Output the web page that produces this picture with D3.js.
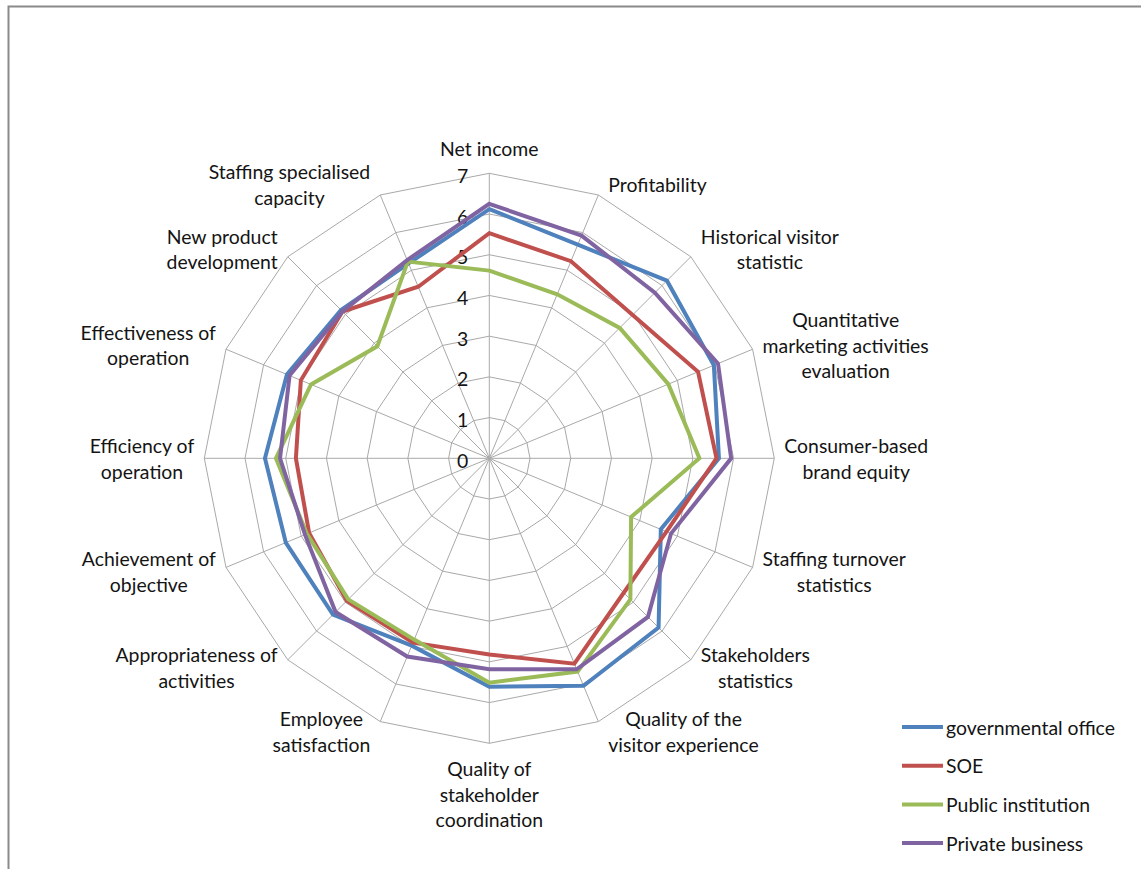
<!DOCTYPE html>
<html>
<head>
<meta charset="utf-8">
<script src="https://cdn.jsdelivr.net/npm/d3@7"></script>
<style>
  html, body { margin: 0; padding: 0; background: #ffffff; }
  svg { display: block; }
  text { font-family: Lato, "Open Sans", "DejaVu Sans", sans-serif; fill: #141414; }
</style>
</head>
<body>
<svg id="chart" width="1141" height="869"></svg>
<script>
// Axis categories, clockwise from the top ("\n" marks a line break in the label)
const categories = [
  "Net income",
  "Profitability",
  "Historical visitor\nstatistic",
  "Quantitative\nmarketing activities\nevaluation",
  "Consumer-based\nbrand equity",
  "Staffing turnover\nstatistics",
  "Stakeholders\nstatistics",
  "Quality of the\nvisitor experience",
  "Quality of\nstakeholder\ncoordination",
  "Employee\nsatisfaction",
  "Appropriateness of\nactivities",
  "Achievement of\nobjective",
  "Efficiency of\noperation",
  "Effectiveness of\noperation",
  "New product\ndevelopment",
  "Staffing specialised\ncapacity"
];

const seriesNames = ["governmental office", "SOE", "Public institution", "Private business"];

const governmentalOffice = [6.12, 5.68, 6.17, 5.97, 5.64, 4.56, 5.88, 6.05, 5.61, 4.98, 5.43, 5.41, 5.51, 5.38, 5.15, 5.18];
const soe                = [5.53, 5.24, 4.98, 5.55, 5.58, 4.71, 4.67, 5.46, 4.82, 4.90, 4.95, 4.79, 4.75, 5.01, 5.10, 4.56];
const publicInstitution  = [4.61, 4.36, 4.53, 4.76, 5.16, 3.77, 4.90, 5.67, 5.51, 4.82, 4.90, 4.85, 5.24, 4.74, 3.89, 5.23];
const privateBusiness    = [6.25, 5.92, 5.75, 6.08, 5.94, 4.83, 5.51, 5.61, 5.18, 5.27, 5.34, 4.90, 5.14, 5.31, 5.10, 5.27];

const tickValues = [0, 1, 2, 3, 4, 5, 6, 7];

const seriesValues = [governmentalOffice, soe, publicInstitution, privateBusiness];
const seriesColors = ["#4f81bd", "#c0504d", "#9bbb59", "#8064a2"];

// ---- layout ----
const svg = d3.select("#chart");
const cx = 489.3, cy = 458.3, R = 285;
const n = categories.length;

// pick a label size so the text widths come out like the Calibri original
const probe = svg.append("text").attr("font-size", 20).text("Consumer-based");
const fontSize = 20 * 144 / probe.node().getComputedTextLength();
probe.remove();
const lineH = 25.8;

const r = d3.scaleLinear().domain([0, 7]).range([0, R]);
const angle = i => i * 2 * Math.PI / n;
const pt = (i, v) => [cx + r(v) * Math.sin(angle(i)), cy - r(v) * Math.cos(angle(i))];

// frame
svg.append("rect")
  .attr("x", 8.5).attr("y", 6.5)
  .attr("width", 1200).attr("height", 1000)
  .attr("fill", "none").attr("stroke", "#8a8a8a").attr("stroke-width", 2);

// grid rings
const grid = svg.append("g").attr("fill", "none").attr("stroke", "#a9a9a9").attr("stroke-width", 1);
tickValues.filter(t => t > 0).forEach(t => {
  grid.append("path")
    .attr("d", d3.line()(d3.range(n).map(i => pt(i, t))) + "Z");
});
// spokes
d3.range(n).forEach(i => {
  const [x, y] = pt(i, 7);
  grid.append("line").attr("x1", cx).attr("y1", cy).attr("x2", x).attr("y2", y);
});

// tick labels along the top spoke
svg.append("g").selectAll("text").data(tickValues).join("text")
  .attr("x", cx - 21)
  .attr("y", d => cy - r(d) + 2)
  .attr("text-anchor", "end")
  .attr("dominant-baseline", "central")
  .attr("font-size", fontSize)
  .text(d => d);

// series lines
const radial = d3.line();
svg.append("g").selectAll("path").data(seriesValues).join("path")
  .attr("d", vals => radial(vals.map((v, i) => pt(i, v))) + "Z")
  .attr("fill", "none")
  .attr("stroke", (d, k) => seriesColors[k])
  .attr("stroke-width", 4)
  .attr("stroke-linejoin", "miter");

// category labels
const labels = svg.append("g");
categories.forEach((name, i) => {
  const lines = name.split("\n");
  const s = Math.sin(angle(i)), c = Math.cos(angle(i));
  const [vx, vy] = pt(i, 7);
  let x, yc, anchor;
  if (Math.abs(s) < 0.01) {
    const h = (lines.length - 1) * lineH + 20;
    x = vx; anchor = "middle";
    yc = vy - c * (h / 2 + 15);
  } else {
    anchor = s > 0 ? "start" : "end";
    x = vx + Math.sign(s) * 10;
    yc = vy - c * 11;
  }
  const t = labels.append("text")
    .attr("font-size", fontSize)
    .attr("text-anchor", anchor);
  lines.forEach((ln, k) => {
    t.append("tspan").attr("x", x)
      .attr("y", yc + (k - (lines.length - 1) / 2) * lineH)
      .attr("dominant-baseline", "central")
      .text(ln);
  });
  if (anchor === "start" || anchor === "end") {
    // lines inside a side label are centred on each other
    const w = t.node().getBBox().width;
    const mid = anchor === "start" ? x + w / 2 : x - w / 2;
    t.attr("text-anchor", "middle");
    t.selectAll("tspan").attr("x", mid);
  }
});

// legend
const legend = svg.append("g");
seriesNames.forEach((name, k) => {
  const y = 727 + k * 38.7;
  legend.append("line")
    .attr("x1", 902).attr("x2", 943).attr("y1", y).attr("y2", y)
    .attr("stroke", seriesColors[k]).attr("stroke-width", 4);
  legend.append("text")
    .attr("x", 946).attr("y", y)
    .attr("dominant-baseline", "central")
    .attr("font-size", fontSize)
    .text(name);
});
</script>
</body>
</html>
